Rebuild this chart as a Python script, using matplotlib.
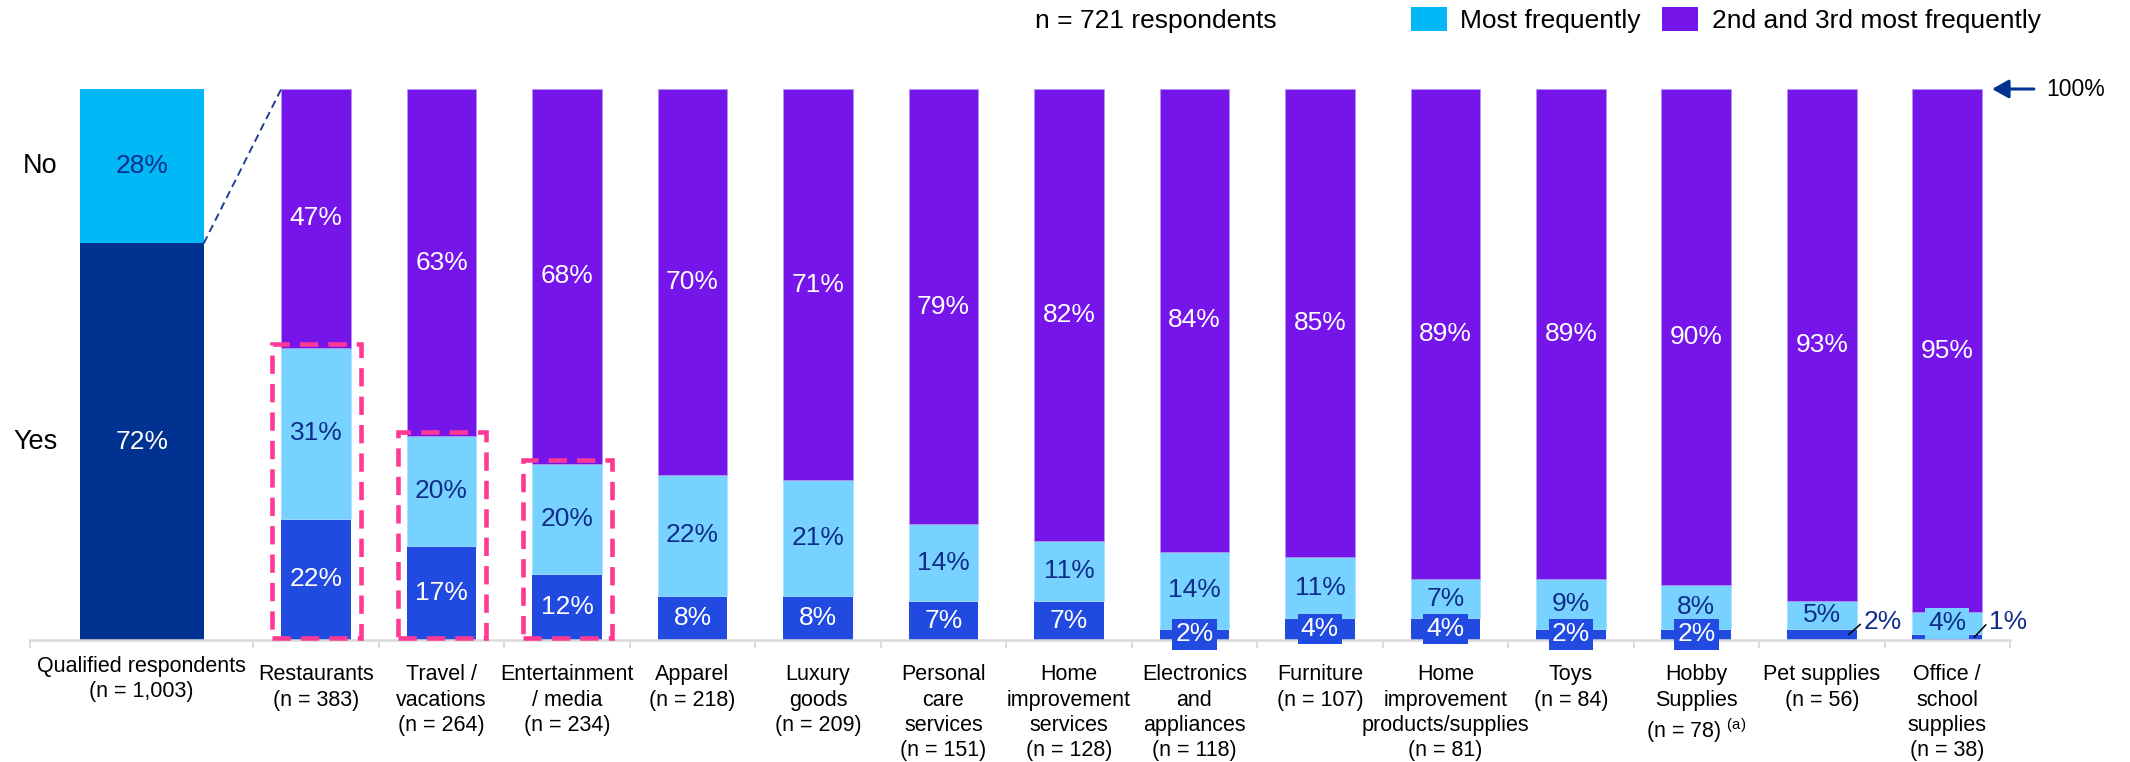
import numpy as np
import matplotlib
matplotlib.use("Agg")
import matplotlib.pyplot as plt
from matplotlib.patches import Patch, Rectangle
from matplotlib.ticker import FixedLocator
from matplotlib.transforms import ScaledTranslation

plt.rcParams['font.family'] = ['Liberation Sans', 'DejaVu Sans']
plt.rcParams['mathtext.fontset'] = 'custom'
plt.rcParams['mathtext.rm'] = 'Liberation Sans'

# ---- data -------------------------------------------------------------
overall_label = "Qualified respondents"
overall_n = "1,003"
overall_yes = 72
overall_no = 28

categories = ["Restaurants", "Travel /\nvacations", "Entertainment\n/ media", "Apparel",
              "Luxury\ngoods", "Personal\ncare\nservices", "Home\nimprovement\nservices",
              "Electronics\nand\nappliances", "Furniture",
              "Home\nimprovement\nproducts/supplies", "Toys", "Hobby\nSupplies",
              "Pet supplies", "Office /\nschool\nsupplies"]
sample_sizes = ["383", "264", "234", "218", "209", "151", "128", "118", "107", "81", "84",
                "78", "56", "38"]
footnotes = ["", "", "", "", "", "", "", "", "", "", "", "(a)", "", ""]
most_freq_lower = np.array([22, 17, 12, 8, 8, 7, 7, 2, 4, 4, 2, 2, 2, 1])
most_freq_upper = np.array([31, 20, 20, 22, 21, 14, 11, 14, 11, 7, 9, 8, 5, 4])
second_third = np.array([47, 63, 68, 70, 71, 79, 82, 84, 85, 89, 89, 90, 93, 95])
total_respondents = 721

# ---- style ------------------------------------------------------------
NAVY = '#003391'
CYAN = '#00B8F5'
BLUE = '#204AE0'
LIGHT = '#78D2FF'
PURPLE = '#7515E9'
PINK = '#FF3896'
LABEL_DARK = '#0E2D8A'
AXIS_GREY = '#D9D9D9'

highlight = [0, 1, 2]
callouts = [12, 13]

W, H = 2130, 762
fig = plt.figure(figsize=(W / 100, H / 100), dpi=100)
ax = fig.add_axes([30 / W, 122 / H, 1980 / W, 551 / H])

x = np.arange(len(categories))
x_overall = -1.39
bw = 0.555
bw_overall = 0.99

# overall question bar
ax.bar(x_overall, overall_yes, width=bw_overall, color=NAVY, zorder=2)
ax.bar(x_overall, overall_no, bottom=overall_yes, width=bw_overall, color=CYAN, zorder=2)

# category bars
ax.bar(x, most_freq_lower, width=bw, color=BLUE, zorder=2)
ax.bar(x, most_freq_upper, width=bw, bottom=most_freq_lower, color=LIGHT,
       edgecolor='#A9E3FF', linewidth=0.6, zorder=2)
ax.bar(x, second_third, width=bw, bottom=most_freq_lower + most_freq_upper,
       color=PURPLE, edgecolor='#B493F3', linewidth=0.6, zorder=2)

ax.set_xlim(-2.28, 13.5)
ax.set_ylim(0, 100)

LBL = 19

# overall labels
ax.text(x_overall, overall_yes / 2, f"{overall_yes}%", ha='center', va='center',
        color='white', fontsize=LBL)
ax.text(x_overall, overall_yes + overall_no / 2, f"{overall_no}%", ha='center', va='center',
        color=LABEL_DARK, fontsize=LBL)
ax.text(x_overall - bw_overall / 2 - 0.175, overall_yes / 2, "Yes", ha='right', va='center',
        color='black', fontsize=19.5)
ax.text(x_overall - bw_overall / 2 - 0.175, overall_yes + overall_no / 2, "No", ha='right',
        va='center', color='black', fontsize=19.5)

# dashed connector from the "Yes" share to the category breakdown
ax.plot([x_overall + bw_overall / 2, x[0] - bw / 2],
        [overall_yes, most_freq_lower[0] + most_freq_upper[0] + second_third[0]],
        color='#1F3E96', lw=1.4, ls=(0, (4, 2.5)), zorder=3, clip_on=False)

# segment labels
for i in x:
    lo, up, top = most_freq_lower[i], most_freq_upper[i], second_third[i]
    ax.text(i, lo + up + top / 2, f"{top}%", ha='center', va='center', color='white',
            fontsize=LBL, zorder=5)
    box_up = dict(boxstyle='square,pad=0.12', fc=LIGHT, ec='none') if up < 5 else None
    ax.text(i, lo + up / 2, f"{up}%", ha='center', va='center', color=LABEL_DARK,
            fontsize=LBL, bbox=box_up, zorder=5)
    if i in callouts:
        ax.annotate(f"{lo}%", xy=(i + 0.215, lo / 2), xytext=(i + 0.33, 3.3),
                    ha='left', va='center', color=LABEL_DARK, fontsize=LBL,
                    arrowprops=dict(arrowstyle='-', color='black', lw=1.1,
                                    shrinkA=0, shrinkB=0, relpos=(0, 0.5)),
                    annotation_clip=False, zorder=5)
    else:
        box_lo = dict(boxstyle='square,pad=0.12', fc=BLUE, ec='none') if lo < 5 else None
        ax.text(i, lo / 2, f"{lo}%", ha='center', va='center', color='white',
                fontsize=LBL, bbox=box_lo, zorder=5, clip_on=False)

# highlight frames
for i in highlight:
    h = most_freq_lower[i] + most_freq_upper[i]
    ax.add_patch(Rectangle((i - bw / 2 - 0.07, 0.3), bw + 0.15, h + 0.4, fill=False,
                           ec=PINK, lw=3.3, ls=(0, (4, 2.2)), zorder=6, clip_on=False))

# 100% marker
ax.annotate('', xy=(13.357, 100), xytext=(13.69, 100),
            arrowprops=dict(arrowstyle='-|>,head_length=0.5,head_width=0.28', color=NAVY,
                            lw=2.2, shrinkA=0, shrinkB=0, mutation_scale=20),
            annotation_clip=False)
ax.text(13.79, 100, "100%", ha='left', va='center', fontsize=16.5, color='black',
        clip_on=False)

# axis: category labels and separators
tick_pos = [x_overall] + list(x)
tick_labels = [f"{overall_label}\n(n = {overall_n})"]
for name, n, fn in zip(categories, sample_sizes, footnotes):
    lab = f"{name}\n(n = {n})"
    if fn:
        lab += r" $^{\mathrm{" + fn + "}}$"
    tick_labels.append(lab)
ax.set_xticks(tick_pos)
ax.set_xticklabels(tick_labels, fontsize=15.5, linespacing=1.27, color='black')
ax.tick_params(axis='x', which='major', length=0, pad=17.5)
ax.xaxis.set_minor_locator(FixedLocator([-2.28] + list(np.arange(-0.5, 13.6, 1.0))))
ax.tick_params(axis='x', which='minor', length=5.5, width=1.3, color=AXIS_GREY,
               direction='out')
for s in ['left', 'right', 'top']:
    ax.spines[s].set_visible(False)
ax.spines['bottom'].set_color(AXIS_GREY)
ax.spines['bottom'].set_linewidth(1.8)
ax.yaxis.set_visible(False)

first = ax.get_xticklabels()[0]
first.set_transform(first.get_transform() + ScaledTranslation(0, 6 / 72, fig.dpi_scale_trans))

# legend
fig.text(1035 / W, 1 - 21 / H, f"n = {total_respondents} respondents", ha='left',
         va='center', fontsize=19, color='black')
handles = [Patch(facecolor=CYAN), Patch(facecolor=PURPLE)]
fig.legend(handles, ["Most frequently", "2nd and 3rd most frequently"], ncol=2,
           loc='center left', bbox_to_anchor=(1411 / W, 1 - 20 / H), frameon=False,
           fontsize=19, handlelength=1.36, handleheight=1.06, handletextpad=0.5,
           columnspacing=0.83, borderpad=0, borderaxespad=0)

fig.savefig("out.png", dpi=100)
